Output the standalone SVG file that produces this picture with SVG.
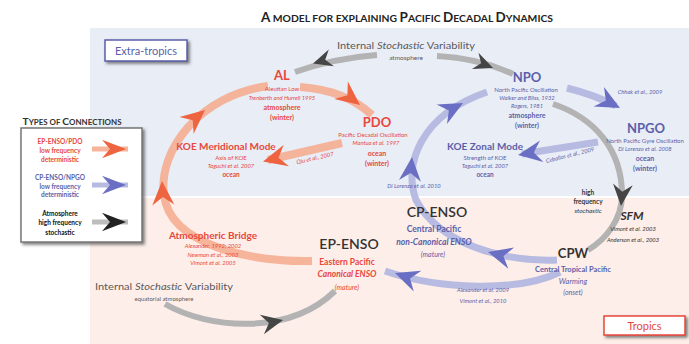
<svg xmlns="http://www.w3.org/2000/svg" width="689" height="344" viewBox="0 0 689 344">
<defs>
<style>
text{font-family:Lato,"Open Sans","Liberation Sans",sans-serif;text-anchor:middle}
.r{fill:#e8473b}
.b{fill:#5b5fa9}
.k{fill:#333}
.g{fill:#5a5a5a}
.bd{font-weight:bold}
.it{font-style:italic}
.cite{font-size:5.8px;font-style:italic}
.sub{font-size:6px}
.med{font-size:7px;font-weight:bold}
.arcR{fill:none;stroke:#f5ad92;stroke-width:8;stroke-opacity:.9}
.arcB{fill:none;stroke:#b7bbe2;stroke-width:7}
.arcG{fill:none;stroke:#b3b3b3;stroke-width:6}
.ahR{fill:#ee6340}
.ahB{fill:#6b6fc4}
.ahG{fill:#454545}
</style>
<path id="ah" d="M0,0 L-24,-11 L-16,0 L-24,11 Z"/>
<filter id="sh" x="-20%" y="-20%" width="150%" height="160%">
<feDropShadow dx="2" dy="2" stdDeviation="1.5" flood-color="#444" flood-opacity="0.7"/>
</filter>
<linearGradient id="gAP" gradientUnits="userSpaceOnUse" x1="300" y1="87" x2="372" y2="115"><stop offset="0" stop-color="#f9cdbb"/><stop offset="1" stop-color="#f29a7a"/></linearGradient>
<linearGradient id="gPK" gradientUnits="userSpaceOnUse" x1="342" y1="143" x2="268" y2="160"><stop offset="0" stop-color="#f9cdbb"/><stop offset="1" stop-color="#f29a7a"/></linearGradient>
<linearGradient id="gNN" gradientUnits="userSpaceOnUse" x1="567" y1="88" x2="616" y2="106"><stop offset="0" stop-color="#cfd2ee"/><stop offset="1" stop-color="#9ea3d8"/></linearGradient>
<linearGradient id="gNK" gradientUnits="userSpaceOnUse" x1="598" y1="142" x2="522" y2="154"><stop offset="0" stop-color="#cfd2ee"/><stop offset="1" stop-color="#9ea3d8"/></linearGradient>
</defs>

<rect x="90" y="28" width="599" height="168" fill="#e9edf6"/>
<rect x="90" y="198" width="599" height="146" fill="#fdeee9"/>

<g id="title">
<text x="407" y="22" class="bd" fill="#222" font-size="10" textLength="292" lengthAdjust="spacingAndGlyphs"><tspan font-size="13">A</tspan> MODEL FOR EXPLAINING <tspan font-size="13">P</tspan>ACIFIC <tspan font-size="13">D</tspan>ECADAL <tspan font-size="13">D</tspan>YNAMICS</text>
</g>

<g id="extra-tropics">
<rect x="105" y="40" width="82" height="21" fill="#fff" stroke="#5b5fa9" stroke-width="1.5" filter="url(#sh)"/>
<text x="146" y="55" class="b" font-size="11">Extra-tropics</text>
</g>

<g id="tropics">
<rect x="604" y="316" width="81" height="19" fill="#fff" stroke="#e8473b" stroke-width="1.5" filter="url(#sh)"/>
<text x="644.5" y="330" class="r" font-size="11">Tropics</text>
</g>

<g id="legend">
<text x="72" y="125" class="bd k" font-size="7" textLength="99" lengthAdjust="spacingAndGlyphs"><tspan font-size="9">T</tspan>YPES OF <tspan font-size="9">C</tspan>ONNECTIONS</text>
<rect x="21" y="128" width="121" height="114" fill="#fff" stroke="#777" stroke-width="1.5" filter="url(#sh)"/>
<g font-size="6.5" font-weight="bold">
<text x="60" y="143.5" class="r">EP-ENSO/PDO</text>
<text x="60" y="152.5" class="r">low frequency</text>
<text x="60" y="161.5" class="r">deterministic</text>
<text x="60" y="179.5" class="b">CP-ENSO/NPGO</text>
<text x="60" y="188.5" class="b">low frequency</text>
<text x="60" y="196.5" class="b">deterministic</text>
<text x="60" y="215.5" fill="#111">Atmosphere</text>
<text x="60" y="224.5" fill="#111">high frequency</text>
<text x="60" y="234.5" fill="#111">stochastic</text>
</g>
<line x1="92" y1="149" x2="128" y2="149" stroke="#f7b49a" stroke-width="5"/>
<use href="#ah" class="ahR" transform="translate(126,149) scale(1,0.85)"/>
<line x1="92" y1="185" x2="128" y2="185" stroke="#b7bbe2" stroke-width="5"/>
<use href="#ah" class="ahB" transform="translate(126,185) scale(1,0.85)"/>
<line x1="92" y1="222" x2="128" y2="222" stroke="#bdbdbd" stroke-width="5"/>
<use href="#ah" fill="#222" transform="translate(126,222) scale(1,0.85)"/>
</g>

<g id="connectors">
<!-- gray atmosphere arcs -->
<path class="arcG" d="M377,55 Q335,58 295,72"/>
<use href="#ah" class="ahG" transform="translate(313,63.5) rotate(163) scale(0.8)"/>
<path class="arcG" d="M437,56 Q478,58 513,74"/>
<use href="#ah" class="ahG" transform="translate(493,68) rotate(22) scale(0.8)"/>
<path class="arcG" d="M553,104 C595,118 622,150 622,195 C622,220 605,240 588,250"/>
<use href="#ah" class="ahG" transform="translate(621,206) rotate(95) scale(0.9)"/>
<path class="arcG" d="M165,304 C210,330 290,335 335,291"/>
<use href="#ah" class="ahG" transform="translate(283,320) rotate(-12) scale(0.9)"/>
<!-- red arcs -->
<path class="arcR" d="M300,87 Q345,90 372,115" stroke="url(#gAP)"/>
<use href="#ah" class="ahR" transform="translate(360,105) rotate(38)"/>
<path class="arcR" d="M312,261 C250,262 170,245 164,195 C158,150 200,95 268,86"/>
<use href="#ah" class="ahR" transform="translate(162,181) rotate(-93)"/>
<use href="#ah" class="ahR" transform="translate(205,110) rotate(-40)"/>
<path class="arcR" d="M342,143 L268,160" stroke="url(#gPK)"/>
<use href="#ah" class="ahR" transform="translate(263,161.5) rotate(166)"/>
<text x="315" y="160" class="r cite" transform="rotate(-13 315 158)">Qiu et al., 2007</text>
<!-- blue arcs -->
<path class="arcB" d="M557,260 C505,262 440,245 416,200 C403,165 420,115 487,92"/>
<use href="#ah" class="ahB" transform="translate(488,252) rotate(195)"/>
<use href="#ah" class="ahB" transform="translate(412,157) rotate(-85)"/>
<use href="#ah" class="ahB" transform="translate(463,103) rotate(-28)"/>
<path class="arcB" d="M560,272 C520,292 440,290 385,271"/>
<use href="#ah" class="ahB" transform="translate(395,273) rotate(200)"/>
<path class="arcB" d="M567,88 Q595,95 616,106" stroke="url(#gNN)"/>
<use href="#ah" class="ahB" transform="translate(620,108) rotate(28)"/>
<path class="arcB" d="M598,142 L522,154" stroke="url(#gNK)"/>
<use href="#ah" class="ahB" transform="translate(518,155) rotate(171)"/>
<text x="570" y="157" class="b cite" transform="rotate(-14 570 155)">Ceballos et al., 2009</text>
<text x="640" y="94" class="b cite">Chhak et al., 2009</text>
<text x="414" y="188" class="b cite">Di Lorenzo et al. 2010</text>
<text x="483" y="292" class="b cite">Alexander et al. 2009</text>
<text x="483" y="303" class="b cite">Vimont et al., 2010</text>
</g>

<g id="stoch-top">
<text x="406" y="48.5" class="g" font-size="9.5" textLength="138" lengthAdjust="spacingAndGlyphs">Internal <tspan font-style="italic">Stochastic</tspan> Variability</text>
<text x="406" y="60" class="g" font-size="6.5">atmosphere</text>
</g>

<g id="AL">
<text x="282" y="80" class="r bd" font-size="13">AL</text>
<text x="282" y="90.5" class="r sub">Aleutian Low</text>
<text x="282" y="100" class="r cite">Trenberth and Hurrell 1995</text>
<text x="282" y="109.5" class="r med">atmosphere</text>
<text x="282" y="119.5" class="r med">(winter)</text>
</g>

<g id="PDO">
<text x="377" y="127" class="r bd" font-size="13">PDO</text>
<text x="373" y="136.5" class="r sub">Pacific Decadal Oscillation</text>
<text x="376" y="145" class="r cite">Mantua et al. 1997</text>
<text x="377" y="155.5" class="r med">ocean</text>
<text x="377" y="165.5" class="r med">(winter)</text>
</g>

<g id="KOE-meridional">
<text x="226" y="149.5" class="r bd" font-size="10">KOE Meridional Mode</text>
<text x="231" y="159.5" class="r sub">Axis of KOE</text>
<text x="231" y="167.5" class="r cite">Taguchi et al. 2007</text>
<text x="231" y="177" class="r bd" font-size="6.5">ocean</text>
</g>

<g id="NPO">
<text x="527" y="82" class="b bd" font-size="13">NPO</text>
<text x="526" y="91.5" class="b sub">North Pacific Oscillation</text>
<text x="527" y="100" class="b cite">Walker and Bliss, 1932</text>
<text x="527" y="107.5" class="b cite">Rogers, 1981</text>
<text x="527" y="117.5" class="b med">atmosphere</text>
<text x="527" y="127.5" class="b med">(winter)</text>
</g>

<g id="NPGO">
<text x="646" y="133" class="b bd" font-size="13">NPGO</text>
<text x="645" y="142.5" class="b sub">North Pacific Gyre Oscillation</text>
<text x="645" y="150.5" class="b cite">Di Lorenzo et al. 2008</text>
<text x="645" y="160.5" class="b med">ocean</text>
<text x="645" y="170.5" class="b med">(winter)</text>
</g>

<g id="KOE-zonal">
<text x="485" y="149.5" class="b bd" font-size="10">KOE Zonal Mode</text>
<text x="485" y="159.5" class="b sub">Strength of KOE</text>
<text x="485" y="167.5" class="b cite">Taguchi et al. 2007</text>
<text x="485" y="176.5" class="b bd" font-size="6.5">ocean</text>
</g>

<g id="SFM">
<text x="588" y="194.5" class="k bd" font-size="6.5">high</text>
<text x="588" y="204" class="k bd" font-size="6.5">frequency</text>
<text x="588" y="213" class="k it" font-size="6.5">stochastic</text>
<text x="632" y="219.5" class="k bd it" font-size="12">SFM</text>
<text x="633" y="230.5" class="k cite">Vimont et al. 2003</text>
<text x="633" y="241.5" class="k cite">Anderson et al., 2003</text>
</g>

<g id="CP-ENSO">
<text x="437" y="217" class="k" font-size="14" font-weight="600">CP-ENSO</text>
<text x="434" y="232" class="b bd" font-size="8.5">Central Pacific</text>
<text x="434" y="245" class="b bd it" font-size="8.5">non-Canonical ENSO</text>
<text x="433" y="256.5" class="b it" font-size="7">(mature)</text>
</g>

<g id="EP-ENSO">
<text x="349" y="249" class="k" font-size="14" font-weight="600">EP-ENSO</text>
<text x="347" y="265" class="r bd" font-size="8.5">Eastern Pacific</text>
<text x="347" y="277" class="r bd it" font-size="8.5">Canonical ENSO</text>
<text x="347" y="289.5" class="r it" font-size="7">(mature)</text>
</g>

<g id="CPW">
<text x="573" y="258" class="k bd" font-size="13">CPW</text>
<text x="573" y="272" class="b bd" font-size="7.5">Central Tropical Pacific</text>
<text x="573" y="284" class="b it" font-size="7.5">Warming</text>
<text x="573" y="295" class="b it" font-size="7">(onset)</text>
</g>

<g id="atm-bridge">
<text x="213" y="238.5" class="r bd" font-size="10">Atmospheric Bridge</text>
<text x="213" y="248" class="r cite">Alexander, 1992; 2002</text>
<text x="213" y="256.5" class="r cite">Newman et al., 2003</text>
<text x="213" y="265" class="r cite">Vimont et al. 2005</text>
</g>

<g id="stoch-bottom">
<text x="164" y="289.5" class="g" font-size="9.5" textLength="138" lengthAdjust="spacingAndGlyphs">Internal <tspan font-style="italic">Stochastic</tspan> Variability</text>
<text x="164" y="301" class="g" font-size="6">equatorial atmosphere</text>
</g>
</svg>
